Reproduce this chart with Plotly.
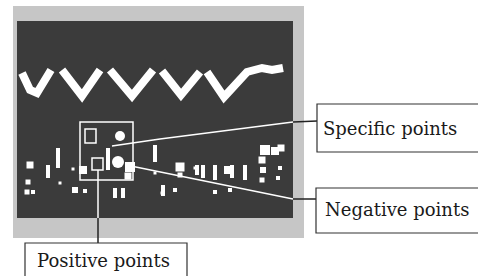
import plotly.graph_objects as go

W, H = 478, 276

# wave trace (pixel-space coordinates of the bright V strokes; None = gap)
wave_x = [22, 30, 37, 51, None, 62, 82, 100, None, 110, 132, 153, None, 162, 181, 200, None, 207, 224, 247, 262, 272, 283]
wave_y = [73, 90, 93, 70, None, 70, 96, 70, None, 70, 96, 70, None, 71, 95, 72, None, 72, 97, 72, 68, 70, 68]

# round / square blobs
blob_x = [30, 28, 27, 33, 60, 73, 83, 75, 85, 130, 128, 155, 162, 180, 180, 228, 265, 275, 281, 262, 263, 262, 278, 280, 175, 215, 230, 195]
blob_y = [165, 182, 192, 192, 183, 169, 170, 190, 191, 167, 176, 173, 193, 167, 175, 170, 150, 151, 148, 160, 170, 180, 178, 168, 190, 192, 190, 168]
blob_s = [7, 5, 5, 4, 3, 3, 8, 6, 4, 10, 7, 3, 3, 9, 5, 8, 10, 8, 7, 7, 6, 5, 4, 4, 4, 4, 4, 3]

# vertical white bars
bar_x = [48, 58, 108, 115, 123, 155, 163, 197, 203, 215, 245, 232]
bar_y0 = [165, 148, 148, 188, 188, 145, 185, 165, 165, 165, 165, 165]
bar_y1 = [178, 168, 170, 198, 198, 162, 196, 175, 178, 180, 180, 178]

# leader lines
spec_x = [112, 160, 293, 317]
spec_y = [146, 139, 122, 121]
neg_x = [126, 293, 316]
neg_y = [165, 199, 199]
pos_x = [98, 98, 98]
pos_y = [170, 218, 243]

labels = ["Specific points", "Negative points", "Positive points"]

fig = go.Figure()

shapes = []
shapes.append(dict(type="rect", x0=13, y0=6, x1=304, y1=238, line=dict(width=0), fillcolor="#c6c6c6", layer="below"))
shapes.append(dict(type="rect", x0=17, y0=21, x1=293, y1=218, line=dict(width=0), fillcolor="#3b3b3b", layer="below"))

fig.add_trace(go.Scatter(x=wave_x, y=wave_y, mode="lines", connectgaps=False,
                         line=dict(color="white", width=8, shape="linear"), hoverinfo="skip"))

bx, by = [], []
for x, a, b in zip(bar_x, bar_y0, bar_y1):
    bx += [x, x, None]
    by += [a, b, None]
fig.add_trace(go.Scatter(x=bx, y=by, mode="lines", line=dict(color="white", width=4), hoverinfo="skip"))
fig.add_trace(go.Scatter(x=blob_x, y=blob_y, mode="markers", marker=dict(color="white", opacity=1, size=blob_s, symbol="square", line=dict(width=0)), hoverinfo="skip"))

# leader lines: white inside the panel, dark outside
fig.add_trace(go.Scatter(x=spec_x[:3], y=spec_y[:3], mode="lines", line=dict(color="white", width=1.5), hoverinfo="skip"))
fig.add_trace(go.Scatter(x=spec_x[2:], y=spec_y[2:], mode="lines", line=dict(color="#222", width=1.5), hoverinfo="skip"))
fig.add_trace(go.Scatter(x=neg_x[:2], y=neg_y[:2], mode="lines", line=dict(color="white", width=1.5), hoverinfo="skip"))
fig.add_trace(go.Scatter(x=neg_x[1:], y=neg_y[1:], mode="lines", line=dict(color="#222", width=1.5), hoverinfo="skip"))
fig.add_trace(go.Scatter(x=pos_x[:2], y=pos_y[:2], mode="lines", line=dict(color="white", width=1.5), hoverinfo="skip"))
fig.add_trace(go.Scatter(x=pos_x[1:], y=pos_y[1:], mode="lines", line=dict(color="#222", width=1.5), hoverinfo="skip"))

# selection box, small squares, circles
shapes.append(dict(type="rect", x0=80, y0=122, x1=133, y1=180, line=dict(color="white", width=1.5)))
shapes.append(dict(type="rect", x0=85, y0=129, x1=96, y1=143, line=dict(color="white", width=1.5)))
shapes.append(dict(type="rect", x0=92, y0=158, x1=103, y1=170, line=dict(color="white", width=1.5)))
shapes.append(dict(type="circle", x0=115, y0=131, x1=125, y1=141, line=dict(width=0), fillcolor="white"))
shapes.append(dict(type="circle", x0=112, y0=156, x1=124, y1=168, line=dict(width=0), fillcolor="white"))

# label boxes
shapes.append(dict(type="rect", x0=317, y0=104, x1=490, y1=152, line=dict(color="#333", width=1.2)))
shapes.append(dict(type="rect", x0=316, y0=188, x1=490, y1=233, line=dict(color="#333", width=1.2)))
shapes.append(dict(type="rect", x0=25, y0=243, x1=187, y1=290, line=dict(color="#333", width=1.2)))

font = dict(family="DejaVu Serif", size=18, color="#1a1a1a")
anns = [
    dict(x=321, y=128, text=labels[0], xanchor="left", yanchor="middle", showarrow=False, font=font),
    dict(x=323, y=209, text=labels[1], xanchor="left", yanchor="middle", showarrow=False, font=font),
    dict(x=35, y=260, text=labels[2], xanchor="left", yanchor="middle", showarrow=False, font=font),
]

fig.update_layout(
    width=W, height=H, margin=dict(l=0, r=0, t=0, b=0),
    paper_bgcolor="white", plot_bgcolor="white", showlegend=False,
    xaxis=dict(range=[0, W], visible=False, fixedrange=True),
    yaxis=dict(range=[H, 0], visible=False, fixedrange=True),
    shapes=shapes, annotations=anns,
)
fig.write_html("out.html", config={"displayModeBar": False},
               post_script="document.body.style.margin='0';document.body.style.overflow='hidden';")
